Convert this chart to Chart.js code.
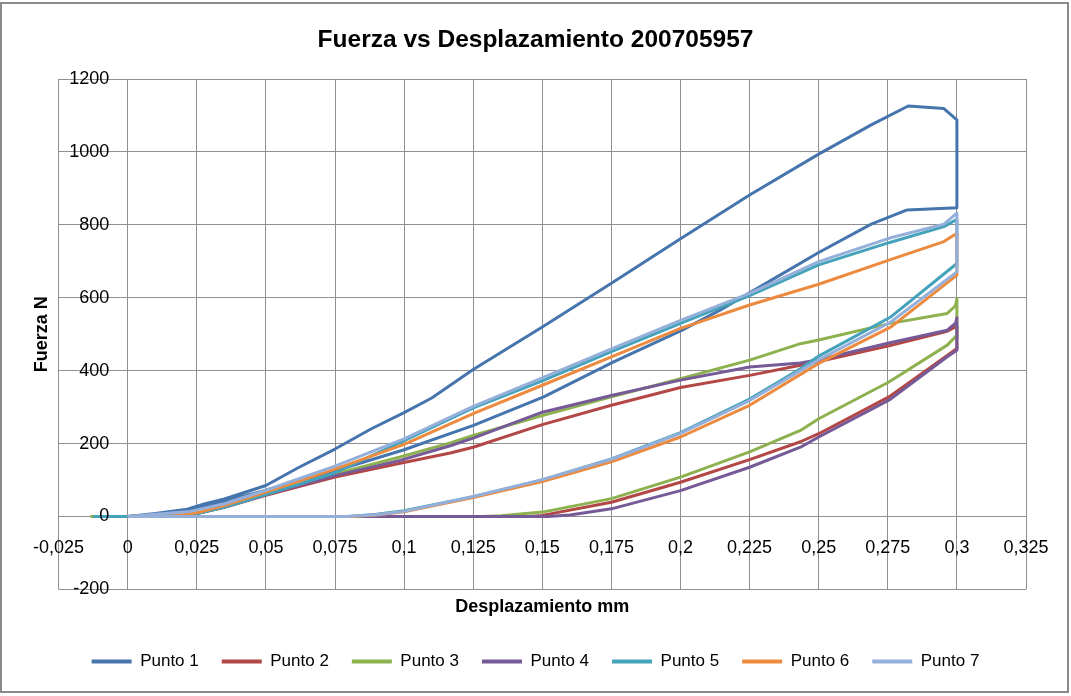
<!DOCTYPE html>
<html>
<head>
<meta charset="utf-8">
<title>Fuerza vs Desplazamiento</title>
<script src="https://cdn.jsdelivr.net/npm/chart.js@4.4.1/dist/chart.umd.min.js"></script>
<style>
  body { margin: 0; background: #fff; }
  canvas { display: block; }
</style>
</head>
<body>
<canvas id="grafico" width="1071" height="696"></canvas>
<script>
// cada punto: carga hasta 0,3 mm, relajacion en 0,3 y descarga hasta cero
const desp1 = [0, 0.01, 0.0215, 0.028, 0.035, 0.05, 0.062, 0.075, 0.088, 0.1, 0.11, 0.125, 0.15, 0.175, 0.2, 0.225, 0.25, 0.269, 0.2824, 0.2953, 0.3,
  0.3, 0.282, 0.269, 0.25, 0.236, 0.2143, 0.2006, 0.1758, 0.1505, 0.1251, 0.1, 0.0754, 0.05, 0.025, 0.01, 0, -0.012];
const fuerza1 = [0, 8, 20, 35, 48, 85, 135, 185, 240, 285, 325, 403, 520, 640, 762, 882, 994, 1074, 1126, 1119, 1088,
  847, 841, 802, 724, 662, 566, 511, 424, 328, 250, 183, 126, 72, 22, 5, 0, 0];

const desp2 = [0, 0.02, 0.025, 0.035, 0.05, 0.075, 0.0986, 0.1167, 0.125, 0.15, 0.175, 0.2, 0.225, 0.2434, 0.25, 0.2754, 0.2965, 0.3,
  0.3, 0.2965, 0.2754, 0.25, 0.2434, 0.225, 0.2, 0.175, 0.15, 0.145, -0.011];
const fuerza2 = [0, 4, 8, 25, 58, 108, 146, 174, 190, 252, 305, 354, 387, 415, 425, 468, 508, 522,
  461, 442, 328, 227, 205, 156, 94, 39, 3, 0, 0];

const desp3 = [0, 0.02, 0.025, 0.035, 0.05, 0.075, 0.0986, 0.1167, 0.125, 0.15, 0.175, 0.2, 0.225, 0.2434, 0.25, 0.2754, 0.2965, 0.2995, 0.3,
  0.3, 0.2965, 0.2754, 0.25, 0.2434, 0.225, 0.2, 0.175, 0.15, 0.135, 0.128, -0.0135];
const fuerza3 = [0, 4, 9, 27, 62, 117, 163, 202, 222, 277, 328, 378, 429, 474, 484, 529, 557, 578, 598,
  497, 470, 369, 268, 236, 177, 108, 49, 12, 2, 0, 0];

const desp4 = [0, 0.02, 0.025, 0.035, 0.05, 0.075, 0.0986, 0.1167, 0.125, 0.15, 0.175, 0.2, 0.225, 0.2434, 0.25, 0.2754, 0.2965, 0.2995, 0.3,
  0.3, 0.2965, 0.2754, 0.25, 0.2434, 0.225, 0.2, 0.175, 0.16, 0.152, -0.012];
const fuerza4 = [0, 4, 8, 26, 60, 112, 154, 194, 215, 286, 332, 374, 410, 421, 430, 476, 511, 530, 545,
  456, 438, 319, 218, 190, 135, 71, 21, 4, 0, 0];

const desp5 = [0, 0.017, 0.025, 0.035, 0.05, 0.062, 0.075, 0.1, 0.125, 0.15, 0.175, 0.2, 0.225, 0.25, 0.2754, 0.2953, 0.3,
  0.3, 0.2762, 0.25, 0.2434, 0.225, 0.2, 0.175, 0.15, 0.125, 0.1, 0.09, 0.08, -0.0125];
const fuerza5 = [0, 2, 8, 25, 60, 88, 120, 208, 298, 372, 452, 530, 606, 690, 751, 795, 815,
  694, 548, 440, 405, 322, 230, 158, 100, 54, 16, 6, 0, 0];

const desp6 = [0, 0.0165, 0.025, 0.035, 0.05, 0.075, 0.1, 0.125, 0.15, 0.175, 0.2, 0.225, 0.25, 0.2754, 0.2953, 0.3,
  0.3, 0.2762, 0.25, 0.225, 0.2, 0.175, 0.15, 0.125, 0.1, 0.09, 0.081, 0];
const fuerza6 = [0, 2, 10, 30, 67, 130, 198, 282, 360, 438, 516, 580, 637, 703, 754, 777,
  662, 520, 420, 305, 218, 150, 96, 52, 13, 4, 0, 0];

const desp7 = [0, 0.0226, 0.035, 0.05, 0.075, 0.1, 0.125, 0.15, 0.175, 0.2, 0.225, 0.25, 0.2754, 0.2953, 0.3,
  0.3, 0.2762, 0.25, 0.2434, 0.225, 0.2, 0.175, 0.15, 0.125, 0.1, 0.09, 0.079, 0];
const fuerza7 = [0, 14, 35, 72, 138, 213, 302, 380, 460, 538, 612, 699, 763, 802, 832,
  671, 534, 430, 400, 318, 228, 157, 101, 55, 14, 5, 0, 0];

const nombres = ['Punto 1', 'Punto 2', 'Punto 3', 'Punto 4', 'Punto 5', 'Punto 6', 'Punto 7'];
const colores = ['#4675AE', '#B24745', '#8EB14F', '#765A98', '#44A3BB', '#EC8B3F', '#94B0DA'];

const xTicks = [-0.025, 0, 0.025, 0.05, 0.075, 0.1, 0.125, 0.15, 0.175, 0.2, 0.225, 0.25, 0.275, 0.3, 0.325];
const yTicks = [-200, 0, 200, 400, 600, 800, 1000, 1200];

const series = [[desp1, fuerza1], [desp2, fuerza2], [desp3, fuerza3], [desp4, fuerza4],
  [desp5, fuerza5], [desp6, fuerza6], [desp7, fuerza7]];

const fuente = "'Liberation Sans', Arial, sans-serif";
const gris = '#8f8f8f';

// coma decimal como en la hoja original
const conComa = v => String(Math.round(v * 1000) / 1000).replace('.', ',');

// el ultimo punto se dibuja encima (order menor = encima)
const datasets = series.map(([xs, ys], i) => ({
  label: nombres[i],
  data: xs.map((x, j) => ({ x: x, y: ys[j] })),
  borderColor: colores[i],
  backgroundColor: colores[i],
  borderWidth: 3,
  pointRadius: 0,
  showLine: true,
  borderJoinStyle: 'round',
  order: series.length - i
}));

const marco = {
  id: 'marco',
  beforeDraw(chart) {
    const c = chart.ctx;
    c.save();
    c.fillStyle = '#fff';
    c.fillRect(0, 0, chart.width, chart.height);
    c.strokeStyle = '#8a8a8a';
    c.lineWidth = 2;
    c.strokeRect(1, 3, chart.width - 4, chart.height - 7);
    c.restore();
  }
};

// ejes vacios: solo reservan espacio o llevan el titulo
const ejeVacio = extra => Object.assign({
  type: 'linear', min: 0, max: 1,
  grid: { display: false, drawTicks: false },
  border: { display: false },
  ticks: { display: false }
}, extra);

new Chart(document.getElementById('grafico'), {
  type: 'scatter',
  data: { datasets: datasets },
  options: {
    responsive: false,
    animation: false,
    events: [],
    layout: { padding: { left: 0, right: 0, top: 0, bottom: 16 } },
    plugins: {
      title: {
        display: true,
        text: 'Fuerza vs Desplazamiento 200705957',
        color: '#000',
        font: { family: fuente, size: 24.5, weight: 'bold' },
        padding: { top: 26, bottom: 23.6 }
      },
      legend: {
        position: 'bottom',
        labels: {
          color: '#000',
          font: { family: fuente, size: 17 },
          boxWidth: 40,
          boxHeight: 4,
          padding: 23,
          sort: (a, b) => a.datasetIndex - b.datasetIndex,
          generateLabels: chart => Chart.defaults.plugins.legend.labels.generateLabels(chart)
            .map(l => Object.assign(l, { lineWidth: 0 }))
        }
      },
      tooltip: { enabled: false }
    },
    scales: {
      x: {
        type: 'linear',
        min: -0.025,
        max: 0.325,
        position: { y: 0 },
        afterBuildTicks: s => { s.ticks = xTicks.map(v => ({ value: v })); },
        grid: { color: gris, lineWidth: 1, drawTicks: false },
        border: { color: gris },
        ticks: {
          z: 1, padding: 21, color: '#000', autoSkip: false, maxRotation: 0,
          font: { family: fuente, size: 18 },
          callback: v => conComa(v)
        }
      },
      y: {
        type: 'linear',
        min: -200,
        max: 1200,
        position: { x: -0.00666 },
        afterBuildTicks: s => { s.ticks = yTicks.map(v => ({ value: v })); },
        grid: { color: gris, lineWidth: 1, drawTicks: false },
        border: { display: false },
        ticks: {
          z: 1, padding: 0, color: '#000',
          font: { family: fuente, size: 18 },
          callback: v => String(v)
        }
      },
      xTitulo: ejeVacio({
        position: 'bottom',
        title: {
          display: true, text: 'Desplazamiento mm', color: '#000',
          font: { family: fuente, size: 18, weight: 'bold' },
          padding: { top: 7, bottom: 12 }
        }
      }),
      yTitulo: ejeVacio({
        position: 'left',
        title: {
          display: true, text: 'Fuerza N', color: '#000',
          font: { family: fuente, size: 18, weight: 'bold' },
          padding: { top: 31, bottom: 6 }
        }
      }),
      margenDerecho: ejeVacio({
        position: 'right',
        afterFit: s => { s.width = 45; }
      })
    }
  },
  plugins: [marco]
});
</script>
</body>
</html>
